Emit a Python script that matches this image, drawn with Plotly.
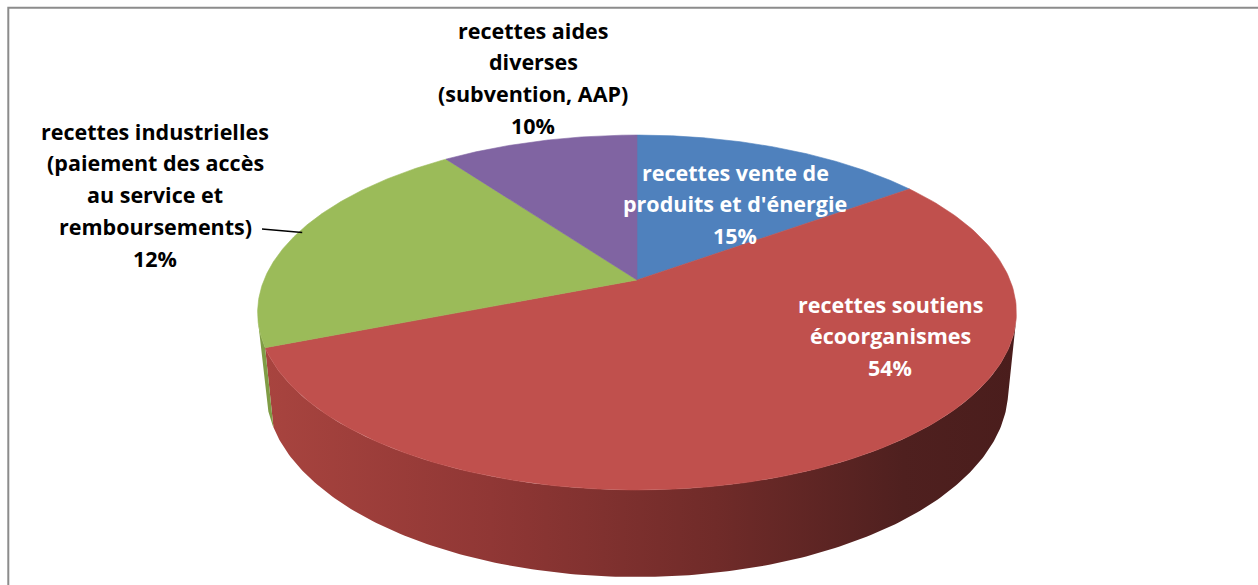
import numpy as np
import plotly.graph_objects as go

# ---- data ----
categories = [
    "recettes vente de produits et d'énergie",
    "recettes soutiens écoorganismes",
    "recettes industrielles (paiement des accès au service et remboursements)",
    "recettes aides diverses (subvention, AAP)",
]
shares = [15, 54, 21, 10]           # slice sizes
pct_labels = ["15%", "54%", "12%", "10%"]  # percentages as printed
label_lines = [
    ["recettes vente de", "produits et d'énergie"],
    ["recettes soutiens", "écoorganismes"],
    ["recettes industrielles", "(paiement des accès", "au service et", "remboursements)"],
    ["recettes aides", "diverses", "(subvention, AAP)"],
]
top_colors = ["#4f81bd", "#c0504d", "#9bbb59", "#8064a2"]
wall_colors = ["#3a6390", "#a8443f", "#7f9c45", "#634d82"]

# ---- 3D projection of the pie (perspective camera) ----
W, H = 1258, 585
CX, CY, S = 637, 280, 1846.0
XSQ = 0.984
PHI = np.radians(26.9)
D = 4.87
THICK = 0.229
c, s = np.cos(PHI), np.sin(PHI)
cam = np.array([0.0, -D * c, D * s])
fwd = np.array([0.0, c, -s])
up = np.array([0.0, s, c])


def proj(theta_deg, z):
    t = np.radians(np.asarray(theta_deg, dtype=float))
    P = np.stack([np.sin(t), np.cos(t), np.full_like(t, z)], axis=-1)
    v = P - cam
    depth = v @ fwd
    return XSQ * v[..., 0] / depth, (v @ up) / depth


total = sum(shares)
bounds = np.concatenate([[0], np.cumsum(shares)]) / total * 360.0
vis_lo = np.degrees(np.arccos(-1.0 / (D * c)))
vis_hi = 360 - vis_lo

fig = go.Figure()

# side walls (front, visible part)
for i in range(len(shares)):
    a, b = max(bounds[i], vis_lo), min(bounds[i + 1], vis_hi)
    if b <= a:
        continue
    th = np.linspace(a, b, 200)
    xt, yt = proj(th, 0.0)
    xb, yb = proj(th[::-1], -THICK)
    xs = np.concatenate([xt, xb, xt[:1]])
    ys = np.concatenate([yt, yb, yt[:1]])
    if i == 1:
        fig.add_trace(go.Scatter(
            x=xs, y=ys, mode="lines", fill="toself", line=dict(width=0),
            fillgradient=dict(type="horizontal",
                              colorscale=[[0, "#a8443f"], [0.3, "#903735"], [0.6, "#702b29"],
                                          [0.85, "#4f201f"], [1, "#4a1d1c"]],
                              start=float(xs.min()), stop=float(xs.max())),
            hoverinfo="skip", showlegend=False))
    else:
        fig.add_trace(go.Scatter(
            x=xs, y=ys, mode="lines", fill="toself", line=dict(width=0),
            fillcolor=wall_colors[i], hoverinfo="skip", showlegend=False))

# top faces
for i in range(len(shares)):
    th = np.linspace(bounds[i], bounds[i + 1], 200)
    xr, yr = proj(th, 0.0)
    xs = np.concatenate([[0.0], xr, [0.0]])
    ys = np.concatenate([[0.0], yr, [0.0]])
    fig.add_trace(go.Scatter(
        x=xs, y=ys, mode="lines", fill="toself", line=dict(width=0.6, color=top_colors[i]),
        fillcolor=top_colors[i], name=categories[i], hoverinfo="name", showlegend=False))

# leader line for the green slice
mid = (bounds[2] + bounds[3]) / 2
mx, my = proj([mid], 0.0)
lx0 = (262 - CX) / S
ly0 = -(229 - CY) / S
fig.add_trace(go.Scatter(x=[lx0, mx[0] + 6 / S], y=[ly0, my[0] + 2 / S], mode="lines",
                         line=dict(color="#000000", width=1.3), hoverinfo="skip",
                         showlegend=False))

# labels (per line, centered), positions in pixels
FONT = "Open Sans"
label_pos = [  # (center x px, first line y px, text color)
    (735, 172, "white"),
    (890, 304, "white"),
    (155, 131, "black"),
    (533, 30, "black"),
]
LH = 31.8
for i, (cxp, y0p, col) in enumerate(label_pos):
    lines = label_lines[i] + [pct_labels[i]]
    for k, txt in enumerate(lines):
        fig.add_annotation(
            x=cxp / W, y=1 - (y0p + k * LH) / H, xref="paper", yref="paper",
            text=txt, showarrow=False, xanchor="center", yanchor="middle",
            font=dict(family=FONT, size=21.5, color=col, weight="bold"))

# chart border
fig.add_shape(type="rect", xref="paper", yref="paper",
              x0=8.3 / W, x1=1.05, y0=-0.05, y1=1 - 7.7 / H,
              line=dict(color="#8c8c8c", width=2), fillcolor="rgba(0,0,0,0)")

fig.update_layout(
    width=W, height=H, margin=dict(l=0, r=0, t=0, b=0),
    paper_bgcolor="white", plot_bgcolor="white",
    xaxis=dict(range=[(0 - CX) / S, (W - CX) / S], visible=False, fixedrange=True),
    yaxis=dict(range=[-(H - CY) / S, CY / S], visible=False, fixedrange=True),
    showlegend=False,
)

fig.write_html("out.html", config={"displayModeBar": False},
               post_script="document.body.style.margin='0px';document.body.style.overflow='hidden';")
